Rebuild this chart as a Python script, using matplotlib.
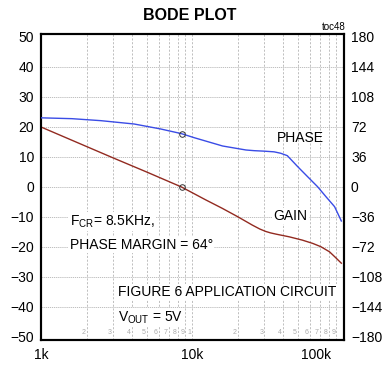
import numpy as np
import matplotlib
matplotlib.use('Agg')
import matplotlib.pyplot as plt
import matplotlib.transforms as mtransforms
from matplotlib.ticker import FixedLocator, NullFormatter

# ── data ───────────────────────────────────────────────────────────────────
GAIN_F   = [1.0, 2.0, 3.0, 5.0, 8.5, 12.3, 15.8, 20.0, 25.0, 28.0, 30.6, 33.0,
            35.8, 43.8, 53.5, 62.7, 71.0, 81.0, 87.5, 97.0]          # kHz
GAIN_DB  = [20.0, 13.5, 9.7, 5.0, 0.0, -4.3, -7.1, -9.9, -12.7, -14.0, -14.8,
            -15.3, -15.7, -16.6, -17.7, -18.8, -19.9, -21.6, -23.2, -25.4]
PHASE_F  = [1.0, 1.6, 2.49, 4.13, 6.2, 8.5, 10.3, 15.9, 22.7, 25.7, 30.0,
            34.8, 38.5, 42.6, 46.0, 49.9, 58.0, 67.5, 76.7, 87.5, 97.0]   # kHz
PHASE_DEG = [83.0, 82.0, 79.6, 75.6, 69.6, 64.0, 59.2, 49.2, 44.4, 43.6, 43.0,
             42.2, 40.5, 37.6, 31.2, 24.4, 12.4, 0.4, -11.6, -23.6, -40.8]
FCR_KHZ  = 8.5
PM_DEG   = 64.0
LEFT_TICKS  = [50, 40, 30, 20, 10, 0, -10, -20, -30, -40, -50]
RIGHT_TICKS = [180, 144, 108, 72, 36, 0, -36, -72, -108, -144, -180]
X_TICKS  = [1, 10, 100]
X_LABELS = ['1k', '10k', '100k']
MINOR_DIGITS = ['2', '3', '4', '5', '6', '7', '8', '9']
# ──────────────────────────────────────────────────────────────────────────

plt.rcParams['font.family'] = ['Liberation Sans', 'DejaVu Sans']
plt.rcParams['mathtext.default'] = 'regular'

GAIN_COLOR  = '#922a20'
PHASE_COLOR = '#3a4ce6'
GRID_COLOR  = '#b4b4b4'

fig = plt.figure(figsize=(3.89, 3.66), dpi=100)
ax = fig.add_axes([41 / 389, 1 - 340 / 366, 303 / 389, 306 / 366])
ax2 = ax.twinx()

ax.set_xscale('log')
ax.set_xlim(1, 101)
ax.set_ylim(-51, 51)
ax2.set_ylim(-51 * 3.6, 51 * 3.6)

# minor grid (2..9 of each decade) + 10k line
minor = [m * d for d in (1, 10) for m in range(2, 10)]
ax.xaxis.set_major_locator(FixedLocator(X_TICKS))
ax.xaxis.set_minor_locator(FixedLocator(minor))
ax.xaxis.set_minor_formatter(NullFormatter())
ax.set_xticklabels(X_LABELS)
for xv in minor + [10]:
    ax.axvline(xv, color=GRID_COLOR, lw=0.6, ls=(0, (2.5, 2)), zorder=0)
for yv in LEFT_TICKS[1:-1]:
    ax.axhline(yv, color=GRID_COLOR, lw=0.6, ls=(0, (1.5, 1)), zorder=0)

ax.plot(GAIN_F, GAIN_DB, color=GAIN_COLOR, lw=1.0, zorder=3)
ax2.plot(PHASE_F, PHASE_DEG, color=PHASE_COLOR, lw=1.0, zorder=3)
ax.plot([FCR_KHZ], [0], marker='o', ms=4, mfc='none', mec='#333333', mew=0.7, zorder=4)
ax2.plot([FCR_KHZ], [PM_DEG], marker='o', ms=4, mfc='none', mec='#333333', mew=0.7, zorder=4)

ax.set_yticks(LEFT_TICKS)
ax2.set_yticks(RIGHT_TICKS)
ax.tick_params(axis='both', which='both', length=0, labelsize=10, pad=5)
ax2.tick_params(axis='y', length=0, labelsize=10, pad=5)
ax.tick_params(axis='x', pad=6)
lbl = ax.get_xticklabels()[-1]
lbl.set_horizontalalignment('right')
lbl.set_transform(lbl.get_transform() +
                  mtransforms.ScaledTranslation(-0.12, 0, fig.dpi_scale_trans))

for sp in list(ax.spines.values()) + list(ax2.spines.values()):
    sp.set_linewidth(1.5)

# little gray decade digits along the bottom
for d in (1, 10):
    for i, s in enumerate(MINOR_DIGITS):
        ax.text((i + 2) * d * 0.985, -48.5, s, fontsize=5, color='#aaaaaa',
                ha='right', va='center', zorder=2)
ax.text(10 * 0.985, -48.5, '1', fontsize=5, color='#aaaaaa', ha='right', va='center', zorder=2)

box = dict(facecolor='white', edgecolor='none', pad=1)
fs = 10
ax.text(52, 16.5, 'PHASE', fontsize=fs, ha='center', va='center', zorder=5)
ax.text(44.5, -9.7, 'GAIN', fontsize=fs, ha='center', va='center', bbox=box, zorder=5)
ax.text(1.55, -11.6, 'F$_{CR}$= 8.5KHz,', fontsize=fs, ha='left', va='center', bbox=box, zorder=5)
ax.text(1.55, -19.3, 'PHASE MARGIN = 64°', fontsize=fs, ha='left', va='center', bbox=box, zorder=5)
ax.text(3.25, -35, 'FIGURE 6 APPLICATION CIRCUIT', fontsize=fs, ha='left', va='center', bbox=box, zorder=5)
ax.text(3.25, -43.5, 'V$_{OUT}$ = 5V', fontsize=fs, ha='left', va='center', bbox=box, zorder=5)

fig.text(0.888, 1 - 30 / 366, 'toc48', fontsize=7, ha='right', va='baseline')
fig.text(190 / 389, 1 - 15 / 366, 'BODE PLOT', fontsize=11.5, fontweight='bold',
         ha='center', va='center')

fig.savefig('out.png', dpi=100)
